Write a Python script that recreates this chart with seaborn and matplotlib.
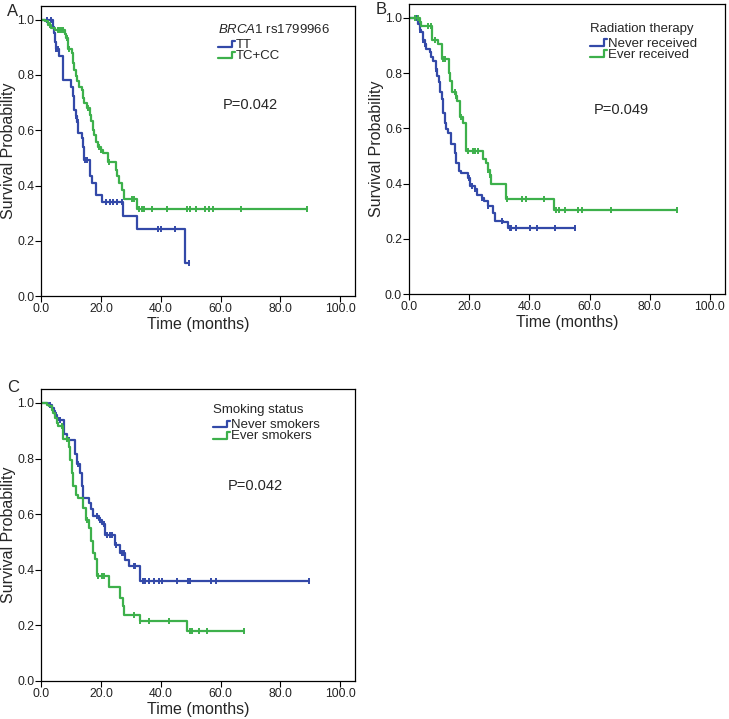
import numpy as np
import matplotlib
matplotlib.use("Agg")
import matplotlib.pyplot as plt
import seaborn as sns
from matplotlib.lines import Line2D
from matplotlib.legend_handler import HandlerBase

# Kaplan-Meier curves (time in months, survival after each drop)
# Panel A: BRCA1 rs1799966
a_tt_t = [3.9, 4.2, 4.5, 4.9, 5.8, 7.1, 9.8, 10.5, 10.9, 11.6, 12.0, 12.4, 13.5, 14.0, 14.4,
          16.3, 16.8, 18.3, 20.2, 27.4, 31.9, 48.2]
a_tt_s = [0.975, 0.95, 0.92, 0.894, 0.87, 0.78, 0.758, 0.722, 0.674, 0.65, 0.63, 0.59, 0.571,
          0.541, 0.493, 0.433, 0.408, 0.366, 0.342, 0.29, 0.242, 0.12]
a_tt_end = 49.3
a_tt_cens = [2.0, 3.3, 5.0, 5.5, 11.7, 12.2, 14.6, 15.3, 21.8, 23.0, 24.0, 25.2, 26.9,
             38.9, 40.0, 44.8, 49.3]

a_tc_t = [1.2, 2.3, 3.4, 4.5, 7.9, 8.4, 9.0, 10.1, 10.7, 11.0, 11.6, 12.0, 12.7, 13.5, 14.0,
          14.4, 15.2, 16.3, 16.6, 17.2, 17.6, 18.3, 19.1, 19.9, 20.5, 22.3, 25.0, 25.4, 26.1,
          26.9, 27.8, 32.1]
a_tc_s = [0.994, 0.982, 0.970, 0.961, 0.949, 0.934, 0.894, 0.879, 0.843, 0.819, 0.795, 0.777,
          0.758, 0.746, 0.716, 0.698, 0.680, 0.656, 0.632, 0.602, 0.583, 0.559, 0.541, 0.529,
          0.517, 0.487, 0.457, 0.433, 0.408, 0.384, 0.35, 0.314]
a_tc_end = 89.0
a_tc_cens = [3.0, 5.5, 6.0, 6.6, 7.2, 8.6, 9.3, 15.5, 19.3, 20.0, 22.5, 30.5, 31.1, 32.8,
             33.6, 34.4, 37.0, 42.0, 48.7, 49.6, 51.8, 54.6, 56.0, 57.3, 66.9, 89.0]

# Panel B: radiation therapy
b_nev_t = [3.0, 3.5, 4.1, 4.7, 5.2, 5.8, 6.9, 7.4, 8.0, 8.9, 9.4, 10.0, 10.4, 10.9, 11.3, 11.9,
           12.4, 13.0, 14.1, 15.2, 15.7, 16.5, 17.4, 19.6, 20.2, 21.8, 22.6, 24.1, 24.8, 26.3,
           27.9, 28.5, 31.3, 32.9]
b_nev_s = [0.978, 0.954, 0.948, 0.918, 0.906, 0.887, 0.875, 0.857, 0.845, 0.815, 0.79, 0.766,
           0.73, 0.706, 0.657, 0.621, 0.597, 0.585, 0.542, 0.512, 0.475, 0.445, 0.437, 0.42,
           0.39, 0.379, 0.36, 0.349, 0.337, 0.319, 0.295, 0.266, 0.26, 0.238]
b_nev_end = 55.1
b_nev_cens = [2.7, 3.6, 4.8, 5.3, 8.9, 20.0, 21.0, 22.0, 24.3, 26.3, 30.8, 33.5, 34.0, 35.5,
              40.1, 42.4, 48.4, 55.1]

b_ev_t = [3.5, 4.1, 7.8, 9.6, 11.1, 13.3, 13.7, 14.4, 15.6, 16.1, 16.9, 18.0, 18.8, 24.6,
          25.5, 26.3, 26.8, 27.4, 32.4, 48.1]
b_ev_s = [0.984, 0.970, 0.918, 0.905, 0.85, 0.80, 0.772, 0.73, 0.718, 0.70, 0.64, 0.62, 0.518,
          0.488, 0.475, 0.45, 0.43, 0.40, 0.345, 0.306]
b_ev_end = 88.9
b_ev_cens = [1.9, 3.0, 6.3, 7.4, 8.5, 11.3, 11.9, 15.2, 15.7, 17.4, 19.6, 21.3, 21.8, 22.9,
             26.4, 26.9, 32.6, 37.4, 39.0, 44.9, 49.0, 49.8, 51.8, 56.2, 57.6, 67.1, 88.9]

# Panel C: smoking status
c_nev_t = [2.3, 3.5, 4.3, 4.6, 5.1, 5.7, 7.6, 8.5, 11.3, 12.1, 13.0, 13.5, 14.1, 15.8, 16.6,
           17.4, 19.4, 20.2, 21.4, 24.7, 26.4, 28.1, 29.2, 33.1]
c_nev_s = [0.994, 0.982, 0.970, 0.958, 0.946, 0.94, 0.89, 0.868, 0.818, 0.782, 0.748, 0.70,
           0.658, 0.64, 0.62, 0.594, 0.58, 0.565, 0.526, 0.49, 0.462, 0.436, 0.412, 0.358]
c_nev_end = 89.6
c_nev_cens = [2.9, 4.9, 6.3, 9.1, 12.4, 18.6, 19.7, 20.8, 21.9, 23.0, 23.6, 24.9, 27.0, 27.5,
              30.9, 31.4, 34.0, 34.8, 35.9, 37.6, 39.3, 40.4, 45.4, 49.0, 49.9, 56.6, 58.3, 89.6]

c_ev_t = [1.8, 2.7, 3.5, 4.0, 4.6, 5.1, 5.7, 7.4, 9.1, 9.6, 10.2, 10.7, 11.6, 12.4, 14.1,
          15.0, 16.0, 16.6, 17.2, 18.0, 18.6, 22.5, 26.4, 27.2, 27.7, 32.9, 48.9]
c_ev_s = [0.994, 0.988, 0.976, 0.964, 0.946, 0.928, 0.916, 0.87, 0.84, 0.796, 0.748, 0.70,
          0.67, 0.658, 0.622, 0.58, 0.55, 0.502, 0.46, 0.438, 0.378, 0.337, 0.298, 0.27, 0.238,
          0.217, 0.181]
c_ev_end = 67.8
c_ev_cens = [6.8, 8.5, 15.4, 19.1, 20.2, 20.8, 30.9, 33.1, 35.9, 42.6, 49.7, 50.4, 52.7,
             55.3, 67.8]

BLUE = "#3349a8"
GREEN = "#3db04b"


class StepHandler(HandlerBase):
    # little step glyph like the SPSS legend
    def create_artists(self, legend, orig_handle, xdescent, ydescent, width, height,
                       fontsize, trans):
        x0, y0 = -xdescent, -ydescent
        xs = [x0, x0 + 0.8 * width, x0 + 0.8 * width, x0 + width]
        ys = [y0 + 0.1 * height, y0 + 0.1 * height, y0 + 0.8 * height, y0 + 0.8 * height]
        ln = Line2D(xs, ys, color=orig_handle.get_color(), lw=orig_handle.get_linewidth(),
                    transform=trans)
        return [ln]


def km(ax, t, s, end, cens, color, label):
    xs = np.r_[0.0, t, end]
    ys = np.r_[1.0, s, s[-1]]
    sns.lineplot(x=xs, y=ys, drawstyle="steps-post", color=color, lw=1.6, ax=ax,
                 label=label, sort=False, estimator=None)
    cy = ys[np.searchsorted(xs, cens, side="right") - 1]
    ax.plot(cens, cy, ls="none", marker="|", ms=5, mew=1.4, color=color)


sns.set_theme(style="ticks")
plt.rcParams["font.family"] = ["Liberation Sans", "DejaVu Sans"]
plt.rcParams["mathtext.fontset"] = "custom"
plt.rcParams["mathtext.it"] = "Liberation Sans:italic"
plt.rcParams["mathtext.rm"] = "Liberation Sans"

fig = plt.figure(figsize=(7.29, 7.19), dpi=100)
axA = fig.add_axes([0.0567, 0.588, 0.4305, 0.404])
axB = fig.add_axes([0.561, 0.5907, 0.4335, 0.4038])
axC = fig.add_axes([0.0567, 0.0529, 0.4305, 0.406])

panels = [
    (axA, "A", "$\\it{BRCA1}$ rs1799966",
     [(a_tt_t, a_tt_s, a_tt_end, a_tt_cens, BLUE, "TT"),
      (a_tc_t, a_tc_s, a_tc_end, a_tc_cens, GREEN, "TC+CC")],
     "P=0.042", (70, 0.69), (0.563, 0.94), (13, 11)),
    (axB, "B", "Radiation therapy",
     [(b_nev_t, b_nev_s, b_nev_end, b_nev_cens, BLUE, "Never received"),
      (b_ev_t, b_ev_s, b_ev_end, b_ev_cens, GREEN, "Ever received")],
     "P=0.049", (70.7, 0.668), (0.573, 0.936), (381, 10)),
    (axC, "C", "Smoking status",
     [(c_nev_t, c_nev_s, c_nev_end, c_nev_cens, BLUE, "Never smokers"),
      (c_ev_t, c_ev_s, c_ev_end, c_ev_cens, GREEN, "Ever smokers")],
     "P=0.042", (71.5, 0.70), (0.547, 0.948), (13, 388)),
]

for ax, letter, ltitle, curves, ptxt, ppos, lpos, lxy in panels:
    for t, s, end, cens, col, lab in curves:
        km(ax, t, s, end, cens, col, lab)
    ax.set_xlim(0, 105)
    ax.set_ylim(0, 1.05)
    ax.set_xticks(np.arange(0, 101, 20))
    ax.set_yticks(np.arange(0, 1.01, 0.2))
    ax.xaxis.set_major_formatter("{x:.1f}")
    ax.yaxis.set_major_formatter("{x:.1f}")
    ax.tick_params(labelsize=8.8, length=4, width=0.8, pad=1, colors="black",
                   labelcolor="#222222")
    for sp in ax.spines.values():
        sp.set_visible(True)
        sp.set_color("black")
        sp.set_linewidth(0.9)
    ax.set_xlabel("Time (months)", fontsize=11.5, labelpad=1.5)
    ax.set_ylabel("Survival Probability", fontsize=11.5, labelpad=1)
    ax.text(ppos[0], ppos[1], ptxt, fontsize=10.5, ha="center", va="center")
    leg = ax.legend(title=ltitle, loc="upper left", bbox_to_anchor=lpos, frameon=False,
                    fontsize=9.5, title_fontsize=9.5, handlelength=1.3, handletextpad=0.05,
                    labelspacing=-0.08, borderpad=0, borderaxespad=0, alignment="left",
                    handler_map={Line2D: StepHandler()})
    # gap between title and entries (labelspacing is negative for the tight rows)
    leg._legend_box.sep = 2
    fig.text(lxy[0] / 729, 1 - lxy[1] / 719, letter, fontsize=12, ha="center",
             va="center")

fig.savefig("out.png", dpi=100)
